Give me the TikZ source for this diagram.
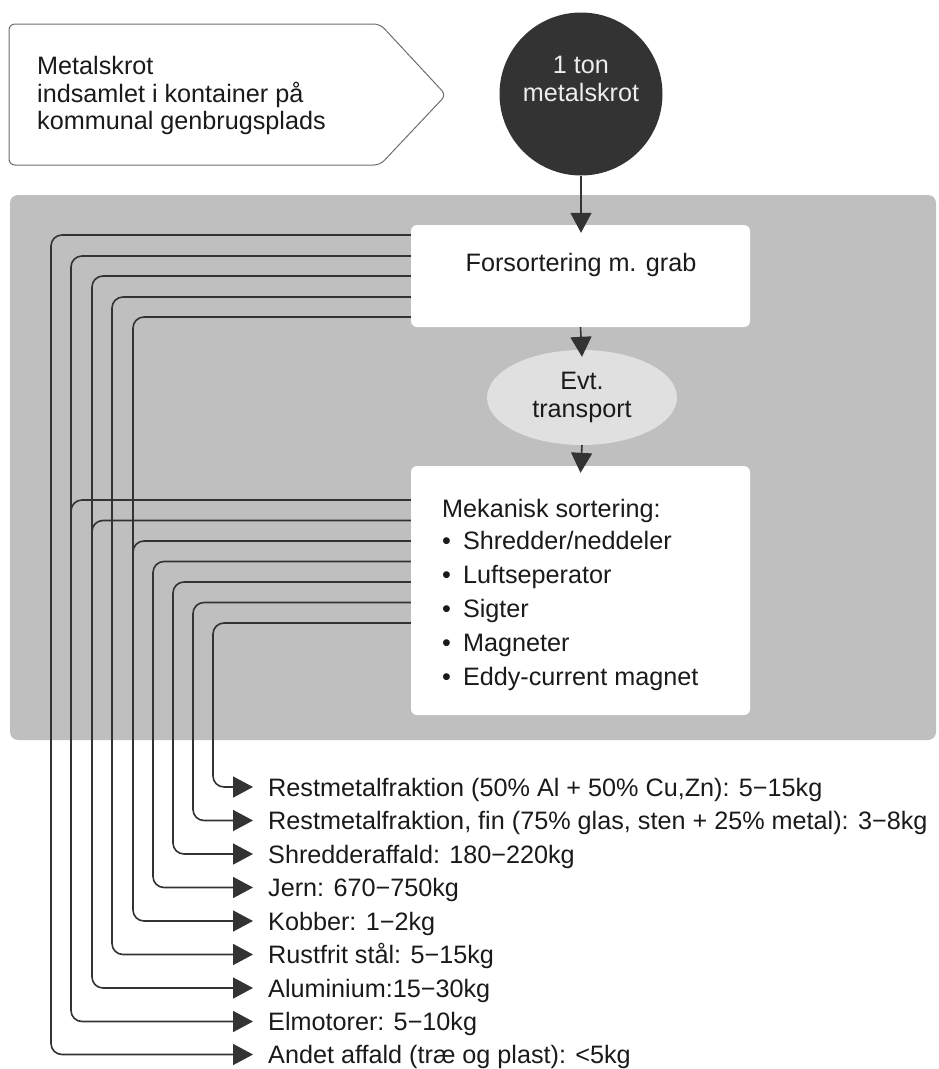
\documentclass[tikz,border=0pt]{standalone}
\usepackage{fontspec}
\setmainfont{Liberation Sans}
\usetikzlibrary{arrows.meta,positioning,calc,shapes.geometric}

\definecolor{panelgray}{HTML}{BFBFBF}
\definecolor{linegray}{HTML}{333333}
\definecolor{ovalgray}{HTML}{E0E0E0}
\definecolor{textgray}{HTML}{1A1A1A}
\definecolor{edgegray}{HTML}{6E6E6E}

\tikzset{
  txt/.style={font=\fontsize{25.2}{27.5}\selectfont, text=textgray},
  onetext/.style={txt, inner sep=0pt, text height=18pt, text depth=0pt},
  whitebox/.style={fill=white, rounded corners=6pt, inner sep=0pt, minimum width=339pt},
  link/.style={draw=linegray, line width=1.6pt, rounded corners=11pt},
  flow/.style={link, -{Triangle[length=20pt,width=21pt]}},
  outtext/.style={onetext, anchor=west},
}

\begin{document}
\begin{tikzpicture}[x=1pt,y=-1pt]
\useasboundingbox (0,0) rectangle (938,1069);

% Source tag and the ton circle
\draw[draw=edgegray, fill=white, line width=1pt, rounded corners=6pt]
  (9,24) -- (380,24) -- (446,95) -- (380,165) -- (9,165) -- cycle;
\node[txt, align=left, anchor=west, inner sep=0pt] (kilde) at (37,95.5)
  {Metalskrot\\indsamlet i kontainer på\\kommunal genbrugsplads};
\node[circle, fill=linegray, minimum size=163pt, inner sep=0pt] (ton) at (581,94) {};
\node[txt, align=center, inner sep=0pt, text=white!93!black] (tonlabel) at (581,79) {1 ton\\metalskrot};

% Grey plant area
\fill[panelgray, rounded corners=8pt] (10,195) rectangle (936,740);

% Process steps
\node[whitebox, minimum height=102pt] (grab) at (580.5,276) {};
\node[onetext] (grablabel) at (581,262) {Forsortering m. grab};
\node[ellipse, fill=ovalgray, minimum width=190pt, minimum height=95pt, inner sep=0pt,
  txt, align=center] (transport) at (582,397.5) {Evt.\\transport};
\node[whitebox, minimum height=249pt] (mek) at (580.5,590.5) {};
\node[txt, align=left, anchor=north west, inner sep=0pt] (meklabel) at (442,499.5)
  {Mekanisk sortering:\\[4pt]
   \textbullet\hspace{12pt}Shredder/neddeler\\[6.5pt]
   \textbullet\hspace{12pt}Luftseperator\\[6.5pt]
   \textbullet\hspace{12pt}Sigter\\[6.5pt]
   \textbullet\hspace{12pt}Magneter\\[6.5pt]
   \textbullet\hspace{12pt}Eddy-current magnet};

% Main flow
\draw[flow] (ton.south) -- ([yshift=-8pt]ton.south |- grab.north);
\draw[flow] (grab.south) -- ([yshift=-7pt]transport.north);
\draw[flow] (transport.south) -- ([yshift=-7pt]mek.north);

% Fractions
\node[outtext] (o1) at (268,787) {Restmetalfraktion (50\% Al + 50\% Cu,Zn): 5−15kg};
\node[outtext] (o2) at (268,820.5) {Restmetalfraktion, fin (75\% glas, sten + 25\% metal): 3−8kg};
\node[outtext] (o3) at (268,854) {Shredderaffald: 180−220kg};
\node[outtext] (o4) at (268,887.5) {Jern: 670−750kg};
\node[outtext] (o5) at (268,921) {Kobber: 1−2kg};
\node[outtext] (o6) at (268,954.5) {Rustfrit stål: 5−15kg};
\node[outtext] (o7) at (268,988) {Aluminium:15−30kg};
\node[outtext] (o8) at (268,1021.5) {Elmotorer: 5−10kg};
\node[outtext] (o9) at (268,1054.5) {Andet affald (træ og plast): <5kg};

% Lines out of the pre-sorting
\draw[flow] (grab.west |- 0,235) -| (o9.west -| 51,0) -- ([xshift=-15pt]o9.west);
\draw[flow] (grab.west |- 0,256) -| (o8.west -| 71,0) -- ([xshift=-15pt]o8.west);
\draw[flow] (grab.west |- 0,276) -| (o7.west -| 92,0) -- ([xshift=-15pt]o7.west);
\draw[flow] (grab.west |- 0,297) -| (o6.west -| 112,0) -- ([xshift=-15pt]o6.west);
\draw[flow] (grab.west |- 0,317) -| (o5.west -| 133,0) -- ([xshift=-15pt]o5.west);

% Lines out of the mechanical sorting
\draw[link] (mek.west |- 0,500) -| (71,530);
\draw[link] (mek.west |- 0,520.5) -| (92,550);
\draw[link] (mek.west |- 0,541) -| (133,570);
\draw[flow] (mek.west |- 0,561.5) -| (o4.west -| 153,0) -- ([xshift=-15pt]o4.west);
\draw[flow] (mek.west |- 0,582) -| (o3.west -| 173,0) -- ([xshift=-15pt]o3.west);
\draw[flow] (mek.west |- 0,602.5) -| (o2.west -| 193,0) -- ([xshift=-15pt]o2.west);
\draw[flow] (mek.west |- 0,623) -| (o1.west -| 213,0) -- ([xshift=-15pt]o1.west);
\end{tikzpicture}
\end{document}
